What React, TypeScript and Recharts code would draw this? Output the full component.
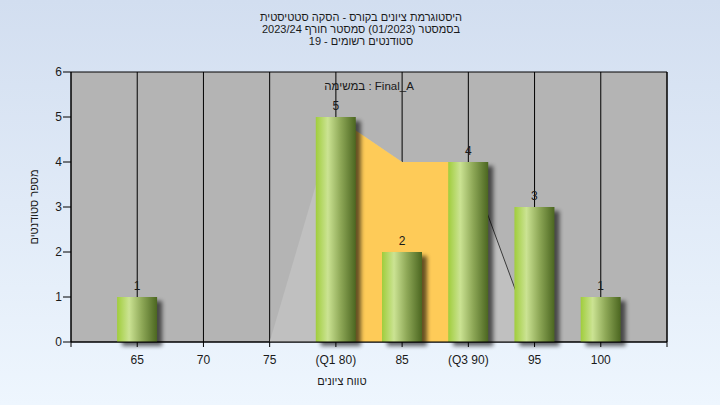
import React from 'react';
import { ComposedChart, Bar, Area, XAxis, YAxis, CartesianGrid, LabelList } from 'recharts';

const categories = [65, 70, 75, 80, 85, 90, 95, 100];
const tickLabels = ['65', '70', '75', '(Q1 80)', '85', '(Q3 90)', '95', '100'];
const counts = [1, 0, 0, 5, 2, 4, 3, 1];
const outerArea: (number | null)[] = [null, null, 0, 5, 4, 4, 0, null];
const iqrArea: (number | null)[] = [null, null, null, 5, 4, 4, null, null];
const edgeLine: (number | null)[] = [null, null, null, null, null, 4, 0, null];
const yTicks = [0, 1, 2, 3, 4, 5, 6];
const xTicks = [60, ...categories, 105];

const titleLines = [
  'היסטוגרמת ציונים בקורס - הסקה סטטיסטית',
  'בסמסטר  (01/2023)  סמסטר חורף 2023/24',
  'סטודנטים רשומים - 19',
];
const assignmentLabel = 'במשימה : Final_A';
const xLabel = 'טווח ציונים';
const yLabel = 'מספר סטודנטים';

const data = categories.map((x, i) => ({
  x,
  count: counts[i],
  outer: outerArea[i],
  iqr: iqrArea[i],
  edge: edgeLine[i],
}));

const FONT = '"Liberation Sans", Arial, "DejaVu Sans", sans-serif';
const TEXT = '#1a1a1a';

const fmtX = (v: number) => {
  const i = categories.indexOf(v);
  return i >= 0 ? tickLabels[i] : '';
};

const BarShape = (props: any) => {
  const { x, y, width, height } = props;
  if (!height || height <= 0) return null;
  return (
    <g>
      <rect x={x + 5} y={y + 4} width={width} height={height} fill="#000" opacity={0.6} filter="url(#barShadow)" />
      <rect x={x} y={y} width={width} height={height} fill="url(#barGrad)" />
    </g>
  );
};

const BarLabel = (p: any) => {
  if (!p.value) return null;
  return (
    <text x={p.x + p.width / 2} y={p.y - 7.5} textAnchor="middle" fontSize={12} fontFamily={FONT} fill={TEXT}>
      {p.value}
    </text>
  );
};

export default function App() {
  return (
    <div
      style={{
        position: 'absolute',
        left: 0,
        top: 0,
        width: 720,
        height: 405,
        background: 'linear-gradient(#d2def0, #eef6fe)',
        fontFamily: FONT,
      }}
    >
      <ComposedChart
        width={720}
        height={405}
        data={data}
        margin={{ top: 72, right: 0, bottom: 0, left: 0 }}
        style={{ position: 'absolute', left: 0, top: 0 }}
      >
        <defs>
          <linearGradient id="barGrad" x1="0" y1="0" x2="1" y2="0">
            <stop offset="0" stopColor="#a0cd3c" />
            <stop offset="0.3" stopColor="#cbe393" />
            <stop offset="0.62" stopColor="#8ea857" />
            <stop offset="1" stopColor="#4b6620" />
          </linearGradient>
          <filter id="barShadow" x="-30%" y="-30%" width="160%" height="160%">
            <feGaussianBlur stdDeviation="2" />
          </filter>
        </defs>
        <CartesianGrid stroke="#000" strokeWidth={1} fill="#b4b4b4" fillOpacity={1} />
        <XAxis
          dataKey="x"
          type="number"
          domain={[60, 105]}
          ticks={xTicks}
          interval={0}
          tickFormatter={fmtX}
          height={63}
          tickSize={5}
          tickMargin={8}
          axisLine={{ stroke: '#000' }}
          tickLine={{ stroke: '#000' }}
          tick={{ fill: TEXT, fontSize: 12, fontFamily: FONT }}
          allowDataOverflow
        />
        <YAxis
          yAxisId="left"
          domain={[0, 6]}
          ticks={yTicks}
          interval={0}
          width={71}
          tickSize={8}
          tickMargin={1}
          axisLine={{ stroke: '#000' }}
          tickLine={{ stroke: '#000' }}
          tick={{ fill: TEXT, fontSize: 12, fontFamily: FONT }}
        />
        <YAxis
          yAxisId="right"
          orientation="right"
          domain={[0, 6]}
          ticks={yTicks}
          interval={0}
          width={53}
          tickSize={9}
          tickMargin={1}
          axisLine={{ stroke: '#000' }}
          tickLine={{ stroke: '#000' }}
          tick={{ fill: TEXT, fontSize: 12, fontFamily: FONT }}
        />
        <Area
          yAxisId="left"
          dataKey="outer"
          type="linear"
          fill="#c0c0c0"
          fillOpacity={1}
          stroke="none"
          isAnimationActive={false}
          dot={false}
          activeDot={false}
        />
        <Area
          yAxisId="left"
          dataKey="iqr"
          type="linear"
          fill="#fecb58"
          fillOpacity={1}
          stroke="none"
          isAnimationActive={false}
          dot={false}
          activeDot={false}
        />
        <Area
          yAxisId="left"
          dataKey="edge"
          type="linear"
          fill="none"
          fillOpacity={0}
          stroke="#3a3a3a"
          strokeWidth={1}
          isAnimationActive={false}
          dot={false}
          activeDot={false}
        />
        <Bar yAxisId="left" dataKey="count" barSize={40} shape={BarShape} isAnimationActive={false}>
          <LabelList dataKey="count" content={BarLabel} />
        </Bar>
      </ComposedChart>
      <svg
        width={720}
        height={405}
        style={{ position: 'absolute', left: 0, top: 0, pointerEvents: 'none' }}
        fontFamily={FONT}
      >
        {titleLines.map((t, i) => (
          <text key={i} x={361} y={21 + i * 12} textAnchor="middle" direction="rtl" fontSize={11} fill={TEXT}>
            {t}
          </text>
        ))}
        <text x={369} y={90} textAnchor="middle" fontSize={11.5} fill={TEXT}>
          {assignmentLabel}
        </text>
        <text x={342} y={385} textAnchor="middle" direction="rtl" fontSize={11} fill={TEXT}>
          {xLabel}
        </text>
        <text transform="translate(34,207) rotate(-90)" textAnchor="middle" dominantBaseline="central" fontSize={11} fill={TEXT}>
          {yLabel}
        </text>
      </svg>
    </div>
  );
}
